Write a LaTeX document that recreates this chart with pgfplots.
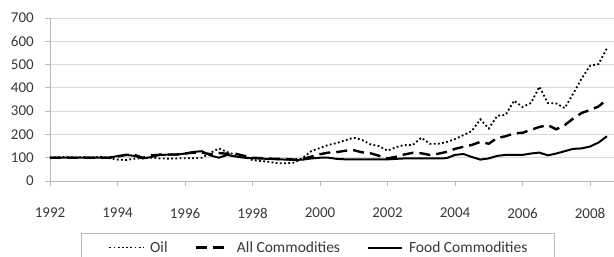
\documentclass[border=0pt]{standalone}
\usepackage{pgfplots}
\usepackage{pgfplotstable}
\pgfplotsset{compat=1.18}
\usepackage{fontspec}
\setmainfont{Carlito}
\definecolor{txt}{gray}{0.22}
\definecolor{gridc}{gray}{0.85}
\definecolor{axc}{gray}{0.72}

\pgfplotstableread{
x       oil  all  food
1992.00 100  100  100
1992.25 102  100  100
1992.50 104  100  100
1992.75 100  100  100
1993.00 103  100  100
1993.25 100  100  100
1993.50 104  100  100
1993.75 98   100  100
1994.00 92   105  107
1994.25 90   112  112
1994.50 96   112  108
1994.75 98   100  97
1995.00 100  110  103
1995.25 97   113  112
1995.50 96   114  113
1995.75 97   114  113
1996.00 98   118  118
1996.25 98   122  125
1996.50 100  122  128
1996.75 120  115  110
1997.00 140  120  100
1997.25 124  117  112
1997.50 112  117  105
1997.75 104  108  100
1998.00 90   100  98
1998.25 86   98   96
1998.50 82   96   95
1998.75 76   95   93
1999.00 76   94   92
1999.25 79   92   90
1999.50 101  95   92
1999.75 129  105  97
2000.00 142  115  100
2000.25 155  122  100
2000.50 163  124  95
2000.75 175  130  93
2001.00 186  132  93
2001.25 176  123  93
2001.50 157  119  93
2001.75 150  108  93
2002.00 130  97   93
2002.25 145  104  95
2002.50 155  114  97
2002.75 155  121  97
2003.00 186  119  97
2003.25 160  112  97
2003.50 160  117  97
2003.75 167  125  98
2004.00 180  138  112
2004.25 197  147  116
2004.50 215  155  103
2004.75 265  168  92
2005.00 225  160  97
2005.25 280  185  108
2005.50 284  192  112
2005.75 345  205  112
2006.00 318  207  112
2006.25 335  220  118
2006.50 405  232  122
2006.75 335  240  110
2007.00 333  222  118
2007.25 313  240  128
2007.50 375  268  138
2007.75 440  292  140
2008.00 495  305  148
2008.25 502  320  165
2008.50 570  350  192
}\data

\begin{document}
\begin{tikzpicture}
\begin{axis}[
  at={(0pt,0pt)}, anchor=south west,
  scale only axis,
  width=564pt, height=163pt,
  xmin=1992, xmax=2008.71,
  ymin=0, ymax=700,
  axis lines*=left,
  axis line style={axc, line width=0.8pt},
  xtick={1992,1994,...,2008},
  ytick={0,100,...,700},
  tick align=outside,
  major tick length=5pt,
  tick style={axc, line width=0.8pt},
  ymajorgrids,
  grid style={gridc, line width=1pt},
  /pgf/number format/assume math mode=true,
  /pgf/number format/1000 sep={},
  ticklabel style={font=\fontsize{15}{18}\selectfont, text=txt},
  xticklabel style={anchor=center, inner sep=0pt, yshift=-27pt},
  yticklabel style={anchor=east, inner sep=0pt, xshift=-11pt},
  legend columns=3,
  legend style={
    at={(axis description cs:0.055,-0.319)}, anchor=north west,
    draw=axc, line width=0.8pt, fill=white,
    font=\fontsize{15.5}{18}\selectfont, text=txt,
    inner xsep=27pt, inner ysep=8pt,
    nodes={inner sep=0pt},
    /tikz/every odd column/.append style={column sep=6pt},
    /tikz/every even column/.append style={column sep=27pt},
  },
  legend image code/.code={\draw[#1] (0pt,0pt) -- (34pt,0pt);},
]
\addplot[black, line width=1.8pt, dash pattern=on 1.8pt off 2.4pt] table[x=x, y=oil] {\data};
\addlegendentry{Oil}
\addplot[black, line width=2.4pt, dash pattern=on 11pt off 6pt] table[x=x, y=all] {\data};
\addlegendentry{All Commodities}
\addplot[black, line width=2pt] table[x=x, y=food] {\data};
\addlegendentry{Food Commodities}
\end{axis}
\pgfresetboundingbox
\path[use as bounding box] (-50pt,-76pt) rectangle (564pt,181pt);
\end{tikzpicture}
\end{document}
